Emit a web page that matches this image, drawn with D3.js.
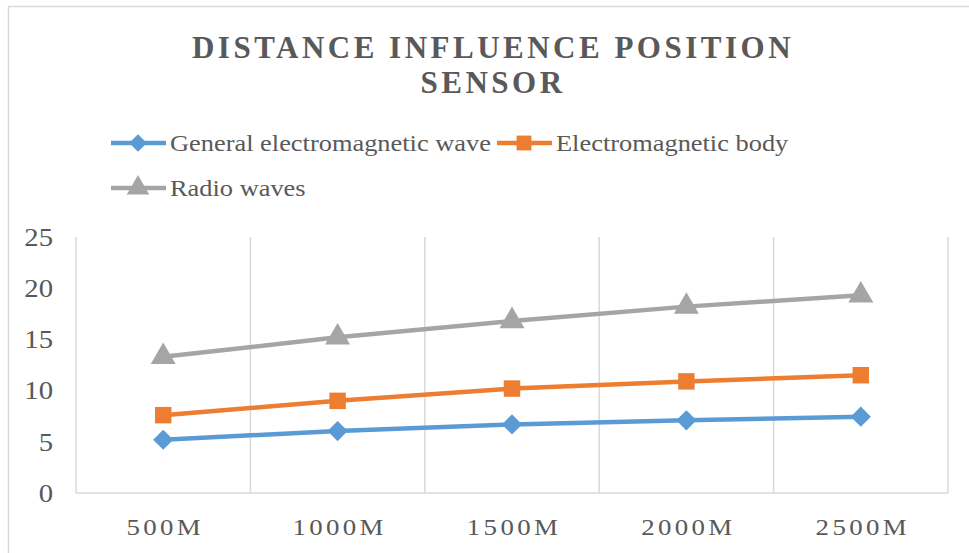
<!DOCTYPE html>
<html>
<head>
<meta charset="utf-8">
<script src="https://cdn.jsdelivr.net/npm/d3@7.9.0/dist/d3.min.js"></script>
<style>
  body { margin: 0; background: #fff; }
  svg text { font-family: "Liberation Serif", "Times New Roman", serif; fill: #595959; }
</style>
</head>
<body>
<svg id="chart" width="969" height="553"></svg>
<script>
// chart data
const categories = ['500M', '1000M', '1500M', '2000M', '2500M'];
const seriesNames = ['General electromagnetic wave', 'Electromagnetic body', 'Radio waves'];
const generalWave = [5.2, 6.05, 6.7, 7.1, 7.45];
const emBody = [7.6, 9.0, 10.2, 10.9, 11.5];
const radioWaves = [13.3, 15.2, 16.8, 18.2, 19.3];
const yTicks = [0, 5, 10, 15, 20, 25];

const colors = ['#5b9bd5', '#ed7d31', '#a5a5a5'];
const symbols = [d3.symbolDiamond2, d3.symbolSquare, d3.symbolTriangle];
const allSeries = [generalWave, emBody, radioWaves];

const svg = d3.select('#chart');

// puts a text at (x, y), widened by sx (the original picture is a bit stretched sideways)
function label(parent, x, y, txt, anchor, size, spacing, sx) {
  return parent.append('g')
    .attr('transform', `translate(${x},${y}) scale(${sx},1)`)
    .append('text')
    .attr('text-anchor', anchor)
    .attr('dy', '0.35em')
    .style('font-size', size + 'px')
    .style('letter-spacing', (spacing || 0) + 'px')
    .text(txt);
}

// outer chart border (only left/top visible in the crop)
svg.append('rect')
  .attr('x', 8.5).attr('y', 6.5)
  .attr('width', 1000).attr('height', 600)
  .attr('fill', 'none').attr('stroke', '#d9d9d9').attr('stroke-width', 1.5);

const plot = { left: 76, right: 948, top: 237, bottom: 493 };

const x = d3.scaleBand().domain(categories).range([plot.left, plot.right]);
const y = d3.scaleLinear().domain([0, 25]).range([plot.bottom, plot.top]);

// vertical gridlines at category boundaries
const bounds = categories.map(c => x(c)).concat([plot.right]);
svg.append('g').selectAll('line').data(bounds).join('line')
  .attr('x1', d => d).attr('x2', d => d)
  .attr('y1', plot.top).attr('y2', plot.bottom)
  .attr('stroke', '#d9d9d9').attr('stroke-width', 1.5);

// x axis baseline
svg.append('line')
  .attr('x1', plot.left).attr('x2', plot.right)
  .attr('y1', plot.bottom).attr('y2', plot.bottom)
  .attr('stroke', '#d9d9d9').attr('stroke-width', 1.5);

// y axis labels
const yLab = svg.append('g');
yTicks.forEach(t => label(yLab, 53, y(t), String(t), 'end', 25, 0, 1.15));

// x axis labels
const xLab = svg.append('g');
categories.forEach(c => label(xLab, x(c) + x.bandwidth() / 2 + 2, 527, c, 'middle', 24, 3, 1.12));

// lines and markers
const line = d3.line()
  .x((d, i) => x(categories[i]) + x.bandwidth() / 2)
  .y(d => y(d));

allSeries.forEach((vals, s) => {
  svg.append('path')
    .datum(vals)
    .attr('d', line)
    .attr('fill', 'none')
    .attr('stroke', colors[s])
    .attr('stroke-width', 4.5)
    .attr('stroke-linejoin', 'round');

  svg.append('g').selectAll('path').data(vals).join('path')
    .attr('transform', (d, i) => `translate(${x(categories[i]) + x.bandwidth() / 2},${y(d)})`)
    .attr('d', d3.symbol().type(symbols[s]).size(s === 0 ? 260 : 270))
    .attr('fill', colors[s]);
});

// title
const title = svg.append('text')
  .attr('text-anchor', 'middle')
  .style('font-size', '31px')
  .style('font-weight', 'bold')
  .style('letter-spacing', '3.5px');
title.append('tspan').attr('x', 493).attr('y', 58).text('DISTANCE INFLUENCE POSITION');
title.append('tspan').attr('x', 493).attr('y', 93).text('SENSOR');

// legend
const legendPos = [
  { x: 111, y: 143 },
  { x: 497, y: 143 },
  { x: 111, y: 188 }
];
seriesNames.forEach((name, i) => {
  const g = svg.append('g')
    .attr('transform', `translate(${legendPos[i].x},${legendPos[i].y})`);
  g.append('line')
    .attr('x1', 0).attr('x2', 55)
    .attr('stroke', colors[i])
    .attr('stroke-width', 4.5);
  g.append('path')
    .attr('transform', 'translate(27,0)')
    .attr('d', d3.symbol().type(symbols[i]).size(i === 0 ? 200 : 220)())
    .attr('fill', colors[i]);
  label(g, 59, 0, name, 'start', 24, 0, 1.1);
});
</script>
</body>
</html>
